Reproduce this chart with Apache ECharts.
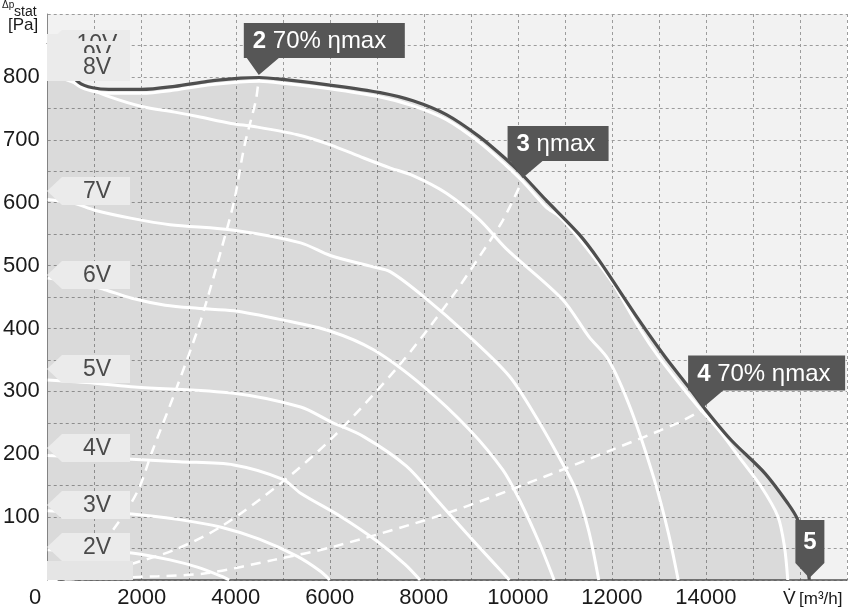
<!DOCTYPE html>
<html>
<head>
<meta charset="utf-8">
<script src="https://cdn.jsdelivr.net/npm/echarts@6/dist/echarts.min.js"></script>
<style>
  html, body { margin: 0; padding: 0; background: #fff; }
  #chart { width: 850px; height: 609px; }
</style>
</head>
<body>
<div id="chart"></div>
<script>
// fan curves, [airflow m3/h, static pressure Pa]
const v10 = [[0, 855], [650, 792], [1300, 780], [2000, 780], [2700, 785], [3400, 793], [4100, 798], [4500, 799], [5000, 796], [6000, 787], [7070, 775], [7770, 762], [8480, 740], [9180, 705], [9750, 669], [10100, 644], [10600, 604], [11300, 550], [11720, 509], [12570, 414], [13130, 355], [13620, 308], [13980, 272], [14530, 223], [15250, 170], [15740, 122], [15950, 96], [16090, 53], [16200, 0]];
const v9 = [[0, 835], [650, 786], [1300, 774], [2000, 774], [2700, 779], [3400, 787], [4100, 792], [4500, 793], [5000, 790], [6000, 781], [7070, 768], [7770, 754], [8480, 732], [9180, 696], [9750, 659], [10100, 634], [10600, 593], [10880, 578], [11300, 543], [12000, 474], [12570, 402], [12990, 355], [13480, 308], [13830, 276], [14320, 234], [14750, 191], [15170, 149], [15530, 101], [15670, 53], [15740, 0]];
const v8 = [[0, 806], [590, 790], [1290, 769], [2000, 753], [2700, 744], [3190, 737], [3900, 726], [4390, 721], [5310, 708], [6010, 692], [6720, 671], [7290, 655], [7770, 643], [8480, 615], [9180, 573], [9750, 527], [10950, 446], [11510, 387], [11930, 350], [12400, 272], [12900, 160], [13200, 75], [13410, 0]];
const v7 = [[0, 605], [560, 599], [1000, 588], [1790, 575], [2600, 565], [3960, 556], [5380, 536], [6010, 516], [6920, 498], [7290, 490], [7990, 451], [8970, 387], [9820, 324], [10380, 260], [10870, 196], [11230, 144], [11500, 80], [11720, 0]];
const v6 = [[0, 480], [700, 472], [1200, 462], [1790, 448], [2500, 437], [3190, 432], [3960, 428], [4960, 414], [6000, 396], [6930, 366], [7990, 308], [8970, 239], [9680, 175], [10030, 128], [10450, 60], [10770, 0]];
const v5 = [[0, 318], [1000, 313], [1850, 307], [3960, 297], [5380, 275], [6010, 252], [6720, 228], [7630, 181], [8270, 128], [8900, 75], [9450, 30], [9820, 0]];
const v4 = [[0, 198], [900, 195], [1790, 192], [2800, 188], [3960, 183], [5000, 160], [5380, 138], [6230, 101], [7000, 62], [7600, 25], [7920, 0]];
const v3 = [[0, 110], [900, 107], [1790, 105], [2800, 96], [3690, 84], [4500, 65], [5300, 38], [5800, 14], [6000, 0]];
const v2 = [[0, 48], [900, 46], [1790, 43], [2600, 32], [3200, 20], [3690, 6], [3860, 0]];

// system curves (dashed) to the marked operating points
const sys2 = [[0, 0], [730, 22], [1500, 91], [1930, 144], [2210, 202], [2700, 297], [3190, 398], [3410, 451], [3690, 525], [3970, 604], [4180, 689], [4430, 764], [4490, 800]];
const sys3 = [[0, 0], [1290, 11], [1640, 22], [2700, 48], [3690, 85], [4960, 154], [6080, 228], [7460, 340], [8560, 446], [9180, 514], [9680, 572], [10100, 636]];
const sys4 = [[0, 0], [2350, 6], [3400, 11], [4810, 32], [6080, 53], [8480, 106], [10590, 165], [12000, 207], [13410, 250], [13940, 271]];

const opPoints = [[4490, 800], [10100, 636], [13940, 271], [16200, 0]];
const opNums = ['2', '3', '4', '5'];
const opTexts = [' 70% ηmax', ' ηmax', ' 70% ηmax', ''];

const curveNames = ['10V', '9V', '8V', '7V', '6V', '5V', '4V', '3V', '2V'];
const curves = [v10, v9, v8, v7, v6, v5, v4, v3, v2];

const xTicks = [2000, 4000, 6000, 8000, 10000, 12000, 14000];
const yTicks = [100, 200, 300, 400, 500, 600, 700, 800];

const FONT = 'Liberation Sans, Arial, sans-serif';

const chart = echarts.init(document.getElementById('chart'));

const series = [];
// shaded working range: light under 10V, a bit darker under 9V
series.push({
  type: 'line', data: v10, smooth: 0.3, showSymbol: false, silent: true,
  lineStyle: { width: 0 }, areaStyle: { color: 'rgba(0,0,0,0.09)' }, z: 1
});
series.push({
  type: 'line', data: v9, smooth: 0.3, showSymbol: false, silent: true,
  lineStyle: { width: 0 }, areaStyle: { color: 'rgba(0,0,0,0.045)' }, z: 1
});

[sys2, sys3, sys4].forEach((data) => {
  series.push({
    type: 'line',
    data: data,
    smooth: 0.3,
    showSymbol: false,
    silent: true,
    lineStyle: { color: '#fff', width: 2.5, type: [10, 7] },
    z: 2
  });
});

curves.forEach((data, i) => {
  series.push({
    name: curveNames[i],
    type: 'line',
    data: data,
    smooth: 0.3,
    showSymbol: false,
    silent: true,
    lineStyle: i === 0 ? { color: '#4f4f4f', width: 3.2 } : { color: '#fff', width: 3 },
    z: i === 0 ? 4 : 3
  });
});

const option = {
  animation: false,
  backgroundColor: '#fff',
  grid: {
    left: 46, right: 0, top: 14, bottom: 29,
    show: true, backgroundColor: '#f2f2f2', borderWidth: 0
  },
  xAxis: {
    type: 'value',
    min: 0, max: 17000, interval: 1000,
    axisLine: { lineStyle: { color: '#555', width: 1.5 } },
    axisTick: { show: false },
    axisLabel: {
      margin: 7,
      fontSize: 22,
      color: '#1a1a1a',
      fontFamily: FONT,
      formatter: (v) => (xTicks.includes(v) ? String(v) : '')
    },
    splitLine: { lineStyle: { color: '#9c9c9c', type: [3, 3], width: 1 } }
  },
  yAxis: {
    type: 'value',
    min: 0, max: 900, interval: 50,
    axisLine: { show: true, lineStyle: { color: '#888', width: 1 } },
    axisTick: { show: false },
    axisLabel: {
      margin: 8,
      fontSize: 22,
      color: '#1a1a1a',
      fontFamily: FONT,
      formatter: (v) => (yTicks.includes(v) ? String(v) : '')
    },
    splitLine: { lineStyle: { color: '#9c9c9c', type: [3, 3], width: 1 } }
  },
  series: series
};

chart.setOption(option);

// left voltage tags (arrow shaped, pointing left)
const leftTagY = { '10V': 44, '9V': 55, '8V': 67, '7V': 191, '6V': 275, '5V': 369, '4V': 448, '3V': 505, '2V': 547 };
const graphics = [];
let zz = 100;
graphics.push({
  type: 'rect', shape: { x: 47, y: 561, width: 86, height: 19 },
  style: { fill: '#e5e5e5' }, z: zz, silent: true
});
// keeps the start of the top curve hidden behind the stacked tags, as in the original
graphics.push({
  type: 'rect', shape: { x: 47, y: 34, width: 83, height: 47 },
  style: { fill: '#ebebeb' }, z: zz, silent: true
});
curveNames.forEach((name) => {
  const cy = leftTagY[name];
  zz += 2;
  graphics.push({
    type: 'polygon',
    shape: { points: [[47, cy], [62, cy - 14], [130, cy - 14], [130, cy + 14], [62, cy + 14]] },
    style: { fill: '#ebebeb' },
    z: zz, silent: true
  });
  graphics.push({
    type: 'text', x: 97, y: cy + 1, z: zz + 1, silent: true,
    style: {
      text: name, fill: '#4a4a4a', font: '23px ' + FONT,
      align: 'center', verticalAlign: 'middle',
      textAlign: 'center', textVerticalAlign: 'middle'
    }
  });
});

// operating point tags (dark, pointing down to the curve)
const tagWidths = [161, 101, 157, 29];
opPoints.forEach((pt, i) => {
  const [px, py] = chart.convertToPixel({ gridIndex: 0 }, pt);
  const tipY = py - 2;
  let points, left, top, bottom;
  if (i === 3) {
    left = px - 14; top = tipY - 58; bottom = tipY - 15;
    const right = left + tagWidths[i];
    points = [[left, top], [right, top], [right, bottom], [px, tipY], [left, bottom]];
  } else {
    left = px - 15; top = tipY - 52; bottom = tipY - 17;
    const right = left + tagWidths[i];
    points = [[left, top], [right, top], [right, bottom], [px + 20, bottom], [px, tipY], [px - 12, bottom], [left, bottom]];
  }
  graphics.push({
    type: 'polygon', shape: { points: points },
    style: { fill: '#565656' }, z: 200, silent: true
  });
  graphics.push({
    type: 'text',
    x: i === 3 ? left + tagWidths[i] / 2 : left + 9,
    y: (top + bottom) / 2 + 1,
    z: 201, silent: true,
    style: {
      text: '{b|' + opNums[i] + '}{r|' + opTexts[i] + '}',
      align: i === 3 ? 'center' : 'left', verticalAlign: 'middle',
      textAlign: i === 3 ? 'center' : 'left', textVerticalAlign: 'middle',
      rich: {
        b: { fill: '#fff', color: '#fff', font: 'bold 24px ' + FONT },
        r: { fill: '#fff', color: '#fff', font: '24px ' + FONT }
      }
    }
  });
});

// axis titles
graphics.push({
  type: 'text', x: 2, y: 0, z: 50, silent: true,
  style: { text: 'Δp', fill: '#1a1a1a', font: '10px ' + FONT }
});
graphics.push({
  type: 'text', x: 14, y: 5, z: 50, silent: true,
  style: { text: 'stat', fill: '#1a1a1a', font: '14px ' + FONT }
});
graphics.push({
  type: 'text', x: 8, y: 17, z: 50, silent: true,
  style: { text: '[Pa]', fill: '#1a1a1a', font: '17px ' + FONT }
});
graphics.push({
  type: 'text', x: 35, y: 598, z: 50, silent: true,
  style: {
    text: '0', fill: '#1a1a1a', font: '22px ' + FONT,
    align: 'center', verticalAlign: 'middle', textAlign: 'center', textVerticalAlign: 'middle'
  }
});
graphics.push({
  type: 'text', x: 783, y: 599, z: 50, silent: true,
  style: {
    text: '{v|V̇} {u|[m³/h]}',
    verticalAlign: 'middle', textVerticalAlign: 'middle',
    rich: {
      v: { fill: '#1a1a1a', color: '#1a1a1a', font: '19px ' + FONT },
      u: { fill: '#1a1a1a', color: '#1a1a1a', font: '17px ' + FONT }
    }
  }
});

chart.setOption({ graphic: { elements: graphics } });
</script>
</body>
</html>
